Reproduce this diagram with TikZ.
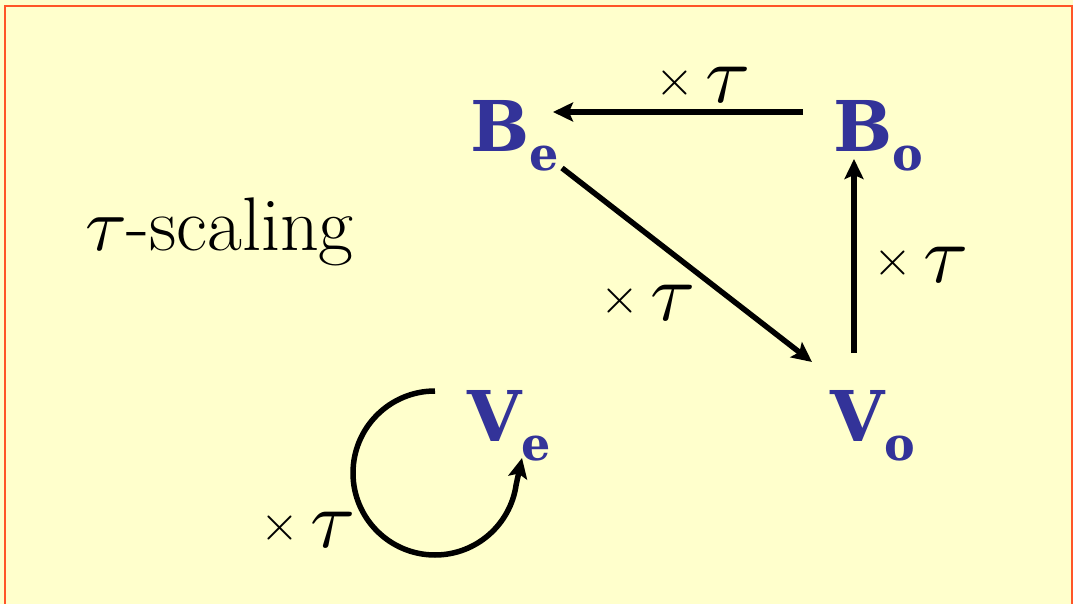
\documentclass[tikz,border=0pt]{standalone}
\usepackage{fontspec}
\usepackage{unicode-math}
\newfontfamily\fieldfont{DejaVu Serif}
\usetikzlibrary{arrows.meta}
\definecolor{bgyellow}{RGB}{255,255,204}
\definecolor{framered}{RGB}{255,85,40}
\definecolor{fieldblue}{RGB}{51,51,153}
\newcommand{\fld}[2]{#1\raisebox{-19pt}{\fontsize{46}{46}\selectfont #2}}
\newcommand{\xtau}{\raisebox{7pt}{\fontsize{50}{50}\selectfont$\times$}\hspace{11pt}{\fontsize{82}{82}\selectfont$\tau$}}
\tikzset{
  field/.style={inner sep=0pt, anchor=base west, text=fieldblue, font=\fieldfont\bfseries\fontsize{70}{70}\selectfont},
  mult/.style={inner sep=0pt, anchor=base west},
  arr/.style={-{Stealth[length=20pt, width=19pt, inset=4pt]}, line width=5.5pt, draw=black}
}
\begin{document}
\begin{tikzpicture}[x=1pt, y=-1pt]
  \useasboundingbox (0,0) rectangle (1073,604);
  \fill[bgyellow] (0,0) rectangle (1073,604);
  \draw[framered, line width=2pt] (5,604) -- (5,6) -- (1072,6) -- (1072,604);

  \node[inner sep=0pt, anchor=base west, font=\fontsize{76}{76}\selectfont] (scaling) at (85,250) {$\tau$-scaling};

  \node[field] (Be) at (470,152) {\fld{B}{e}};
  \node[field] (Bo) at (833,152) {\fld{B}{o}};
  \node[field] (Ve) at (467,441) {\fld{V}{e}};
  \node[field] (Vo) at (830,441) {\fld{V}{o}};

  \node[mult] (tauBB) at (655,103) {\xtau};
  \node[mult] (tauBV) at (600,320) {\xtau};
  \node[mult] (tauVB) at (873,282) {\xtau};
  \node[mult] (tauVV) at (260,547) {\xtau};

  \draw[arr] ([shift={(-30,-40)}]Bo.base west) -- ([shift={(83,-40)}]Be.base west);
  \draw[arr] ([shift={(92,16)}]Be.base west) -- ([shift={(-18,-79)}]Vo.base west);
  \draw[arr] ([shift={(24,-88)}]Vo.base west) -- ([shift={(21,7)}]Bo.base west);
  \draw[arr] ([shift={(-32,-50)}]Ve.base west) arc[start angle=-90, end angle=-352, radius=82]
    -- ([shift={(55,17)}]Ve.base west);
\end{tikzpicture}
\end{document}
